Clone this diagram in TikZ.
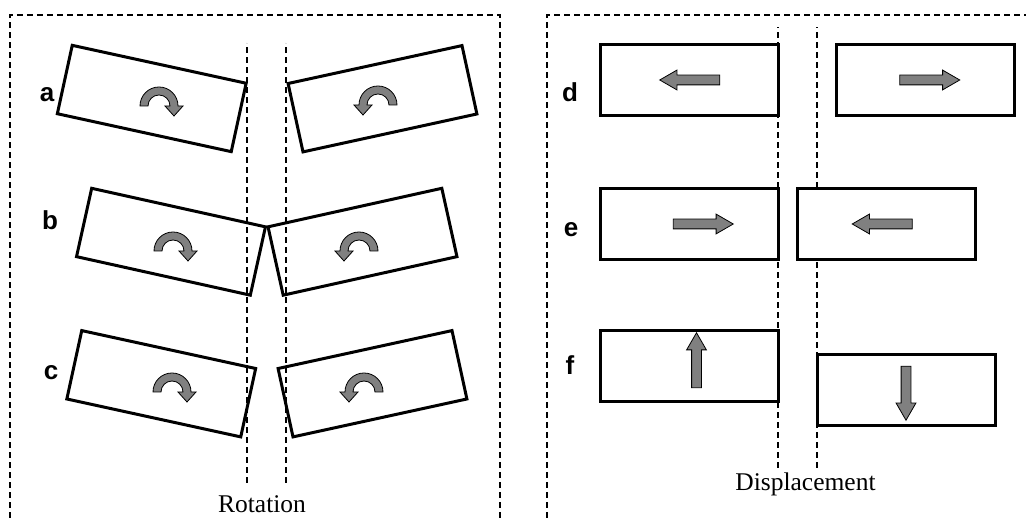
\documentclass[tikz,border=0pt]{standalone}
\usepackage{fontspec}
\setmainfont{Liberation Serif}
\newfontfamily\lblfont{Liberation Sans}
\usetikzlibrary{shapes.arrows}

\definecolor{arrowgray}{RGB}{128,128,128}

\tikzset{
  turnarrow/.pic={
    \filldraw[fill=arrowgray,draw=black,line width=0.8pt]
      (-19,0) arc[start angle=180,end angle=0,radius=19] -- (24,0) -- (15,-10)
      -- (6,0) -- (11,0) arc[start angle=0,end angle=180,radius=11] -- cycle;
  },
  mvarrow/.style={single arrow,draw=black,fill=arrowgray,line width=0.8pt,
    inner xsep=0pt,inner ysep=4.5pt,minimum height=60pt,
    single arrow head extend=5pt,single arrow tip angle=60},
  lbl/.style={font=\lblfont\fontsize{26}{30}\selectfont\bfseries,anchor=base,inner sep=0pt},
  caption/.style={font=\fontsize{25.5}{30}\selectfont,anchor=base,inner sep=0pt}
}

\begin{document}
\begin{tikzpicture}[x=1pt,y=1pt]
\useasboundingbox (0,0) rectangle (1026,518);

\begin{scope}[line width=1.5pt,dash pattern=on 6pt off 4pt]
	\draw (10,0) -- (10,503) -- (500,503) -- (500,0);
	\draw (547,0) -- (547,503) -- (1026,503);
	\draw (247,35) -- (247,475);
	\draw (286,35) -- (286,475);
	\draw (778,50) -- (778,491);
	\draw (817,50) -- (817,491);
\end{scope}

\begin{scope}[every node/.style={rectangle,draw,line width=3pt,
              minimum width=178pt,minimum height=70pt,inner sep=0pt}]
	\node[rotate=-12.3] (aL) at (151.75,419.5) {};
	\node[rotate=12.3]  (aR) at (382.5,419.25) {};
	\node[rotate=-12.5] (bL) at (171,276.25) {};
	\node[rotate=12.5]  (bR) at (362.5,276.25) {};
	\node[rotate=-12.3] (cL) at (161.25,134.25) {};
	\node[rotate=12.3]  (cR) at (372.5,134.25) {};
\end{scope}

\begin{scope}[every node/.style={rectangle,draw,fill=white,line width=3pt,
              minimum width=178pt,minimum height=71pt,inner sep=0pt}]
	\node (dL) at (689,437.5) {};
	\node (dR) at (925.5,437.5) {};
	\node (eL) at (689,294) {};
	\node (eR) at (886,294) {};
	\node (fL) at (689,151.5) {};
	\node (fR) at (906,128) {};
\end{scope}

\pic at (159,412) {turnarrow};
\pic[xscale=-1] at (378,413) {turnarrow};
\pic at (173,267) {turnarrow};
\pic[xscale=-1] at (359,267) {turnarrow};
\pic at (172,126) {turnarrow};
\pic[xscale=-1] at (364,126) {turnarrow};

\node[mvarrow,rotate=180] (mdL) at (694,438) {};
\node[mvarrow] (mdR) at (925.5,438) {};
\node[mvarrow] (meL) at (699,294) {};
\node[mvarrow,rotate=180] (meR) at (886.5,294) {};
\node[mvarrow,rotate=90,minimum height=55pt] (mfL) at (696.5,153.5) {};
\node[mvarrow,rotate=-90,minimum height=54pt] (mfR) at (906,129) {};

\node[lbl] (la) at (47,416) {a};
\node[lbl] (lb) at (50,288) {b};
\node[lbl] (lc) at (51,138) {c};
\node[lbl] (ld) at (570,416) {d};
\node[lbl] (le) at (571,281) {e};
\node[lbl] (lf) at (570,143) {f};

\node[caption] (rot) at (262,5) {Rotation};
\node[caption] (disp) at (805.5,27) {Displacement};
\end{tikzpicture}
\end{document}
